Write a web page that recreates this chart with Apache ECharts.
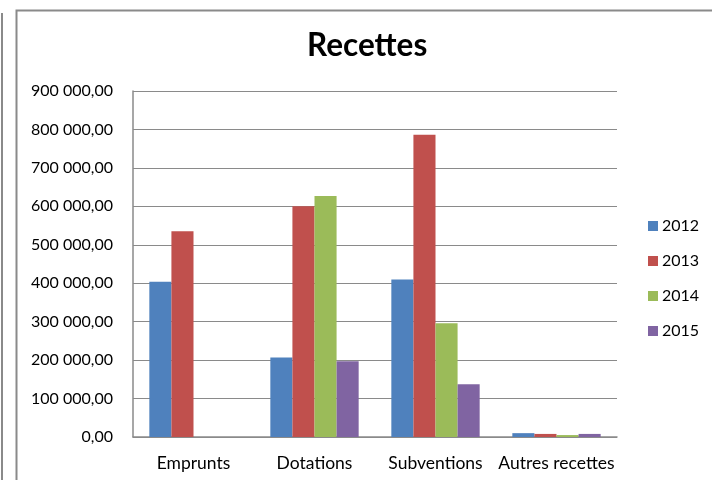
<!DOCTYPE html>
<html><head><meta charset="utf-8">
<script src="https://cdn.jsdelivr.net/npm/echarts@6/dist/echarts.min.js"></script>
<style>html,body{margin:0;padding:0;background:#fff}#c{width:712px;height:480px}</style>
</head><body><div id="c"></div>
<script>
const categories = ['Emprunts', 'Dotations', 'Subventions', 'Autres recettes'];
const seriesNames = ['2012', '2013', '2014', '2015'];
const v2012 = [404000, 207000, 410000, 10000];
const v2013 = [535000, 600000, 786000, 8000];
const v2014 = [0, 627000, 296000, 5000];
const v2015 = [0, 197000, 137000, 8000];
const colors = ['#4F81BD', '#C0504D', '#9BBB59', '#8064A2'];

function fmt(v){
  const s = Math.round(v).toString().replace(/\B(?=(\d{3})+(?!\d))/g, ' ');
  return s + ',00';
}
const values = [v2012, v2013, v2014, v2015];
const chart = echarts.init(document.getElementById('c'), null, {renderer:'canvas'});
chart.setOption({
  animation:false,
  backgroundColor:'#fff',
  textStyle:{fontFamily:'Lato'},
  title:{text:'Recettes', left:302, top:25, textStyle:{fontFamily:'Lato', fontWeight:'bold', fontSize:31.5, color:'#000'}},
  graphic:[
    {type:'rect', shape:{x:16.5,y:10.5,width:720,height:500}, style:{fill:'none', stroke:'#8a8a8a', lineWidth:2}, silent:true},
    {type:'line', shape:{x1:2,y1:13,x2:2,y2:480}, style:{stroke:'#8a8a8a', lineWidth:2}, silent:true}
  ],
  legend:{orient:'vertical', left:643, top:213, itemWidth:10, itemHeight:10, itemGap:19, icon:'rect',
    textStyle:{fontFamily:'Lato', fontSize:16, color:'#000', padding:[0,0,0,-1]}, data:seriesNames},
  grid:{left:133, right:95, top:91, bottom:43},
  xAxis:{type:'category', data:categories,
    axisLine:{lineStyle:{color:'#8a8a8a', width:1.5}}, axisTick:{show:false},
    axisLabel:{interval:0, fontFamily:'Lato', fontSize:17.5, color:'#000', margin:17}},
  yAxis:{type:'value', min:0, max:900000, interval:100000,
    axisLine:{show:true, lineStyle:{color:'#8a8a8a', width:1.5}}, axisTick:{show:false},
    splitLine:{lineStyle:{color:'#8a8a8a', width:1.2}},
    axisLabel:{fontFamily:'Lato', fontSize:16, color:'#000', margin:20, formatter:fmt}},
  series: seriesNames.map((n,i)=>({name:n, type:'bar', data:values[i], barGap:'0%', barCategoryGap:'27%',
    itemStyle:{color:colors[i]}}))
});
</script></body></html>
